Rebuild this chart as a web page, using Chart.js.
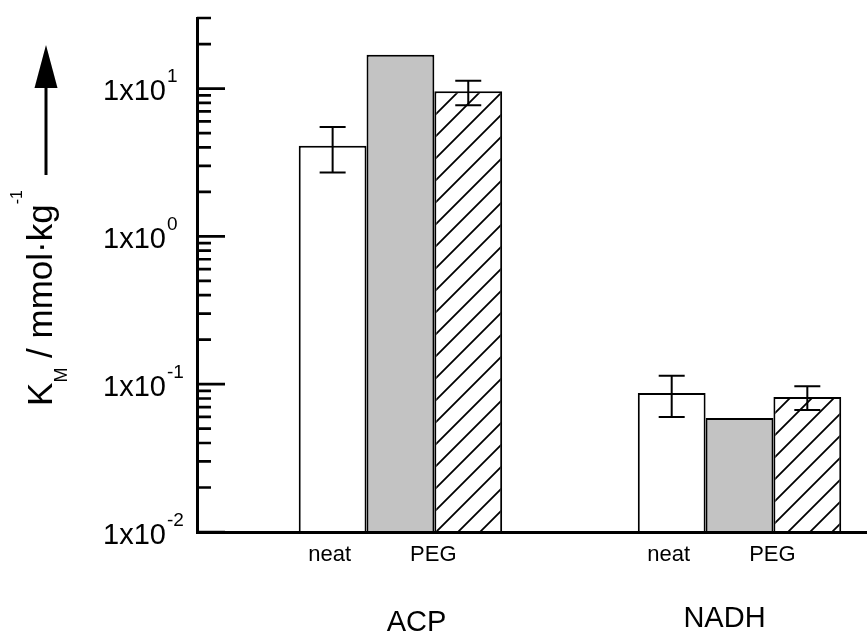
<!DOCTYPE html>
<html>
<head>
<meta charset="utf-8">
<script src="https://cdn.jsdelivr.net/npm/chart.js@4.4.0/dist/chart.umd.min.js"></script>
<style>
  html, body { margin: 0; padding: 0; background: #fff; overflow: hidden; }
  canvas { display: block; }
</style>
</head>
<body>
<canvas id="grafico" width="867" height="632"></canvas>
<script>
// KM por sistema (mmol/kg), escala logarítmica
const grupos = ['ACP', 'NADH'];
const valoresNeat = [4.1, 0.087];
const valoresGris = [16.9, 0.059];
const valoresPEG = [9.6, 0.082];

// barras de error (límite inferior / superior)
const errNeatMin = [2.7, 0.060];
const errNeatMax = [5.5, 0.114];
const errPEGMin = [7.7, 0.067];
const errPEGMax = [11.3, 0.097];

const etiquetasBarra = ['neat', 'PEG'];
const exponentes = [1, 0, -1, -2];

const FUENTE = '"Liberation Sans", Arial, sans-serif';

const canvas = document.getElementById('grafico');
const ctx = canvas.getContext('2d');

// relleno rayado "/"
function rayado() {
  const t = 22;
  const c = document.createElement('canvas');
  c.width = t; c.height = t;
  const g = c.getContext('2d');
  g.fillStyle = '#fff';
  g.fillRect(0, 0, t, t);
  g.strokeStyle = '#000';
  g.lineWidth = 1.8;
  g.beginPath();
  g.moveTo(0, t); g.lineTo(t, 0);
  g.moveTo(-3, 3); g.lineTo(3, -3);
  g.moveTo(t - 3, t + 3); g.lineTo(t + 3, t - 3);
  g.stroke();
  return ctx.createPattern(c, 'repeat');
}

const puntos = vals => vals.map((v, i) => ({ x: i + 1, y: v }));

const decoracion = {
  id: 'decoracion',
  afterDatasetsDraw(chart) {
    const { ctx, scales: { y } } = chart;
    ctx.save();
    ctx.strokeStyle = '#000';
    ctx.lineWidth = 2;
    chart.data.datasets.forEach((ds, di) => {
      if (!ds.errMin) return;
      chart.getDatasetMeta(di).data.forEach((bar, i) => {
        const y1 = y.getPixelForValue(ds.errMin[i]);
        const y2 = y.getPixelForValue(ds.errMax[i]);
        ctx.beginPath();
        ctx.moveTo(bar.x, y1); ctx.lineTo(bar.x, y2);
        ctx.moveTo(bar.x - 13, y1); ctx.lineTo(bar.x + 13, y1);
        ctx.moveTo(bar.x - 13, y2); ctx.lineTo(bar.x + 13, y2);
        ctx.stroke();
      });
    });
    ctx.restore();
  },
  afterDraw(chart) {
    const { ctx, chartArea, scales: { y } } = chart;
    const x0 = chartArea.left;
    ctx.save();
    ctx.strokeStyle = '#000';
    ctx.fillStyle = '#000';

    // marcas del eje y hacia dentro
    ctx.lineWidth = 2.7;
    ctx.beginPath();
    for (let e = -2; e <= 1; e++) {
      for (let m = 1; m <= 9; m++) {
        const v = m * Math.pow(10, e);
        if (v > y.max + 1e-9) break;
        const py = y.getPixelForValue(v);
        ctx.moveTo(x0, py);
        ctx.lineTo(x0 + (m === 1 ? 28 : 14), py);
      }
    }
    ctx.stroke();

    // etiquetas 1x10^n
    exponentes.forEach(e => {
      const py = y.getPixelForValue(Math.pow(10, e));
      ctx.font = '29px ' + FUENTE;
      ctx.textAlign = 'right';
      ctx.textBaseline = 'alphabetic';
      ctx.fillText('1x10', 166, py + 11.5);
      ctx.font = '19px ' + FUENTE;
      ctx.textAlign = 'left';
      ctx.fillText(String(e), 167, py - 6.5);
    });

    // título del eje y: K_M / mmol·kg^-1
    const partes = [
      ['K', '35px ', 0],
      ['M', '18px ', 15],
      [' / mmol\u00b7kg', '35px ', 0],
      ['-1', '16px ', -30]
    ];
    let total = 0;
    partes.forEach(p => { ctx.font = p[1] + FUENTE; total += ctx.measureText(p[0]).width; });
    ctx.save();
    ctx.translate(52, 298);
    ctx.rotate(-Math.PI / 2);
    ctx.textAlign = 'left';
    let px = -total / 2;
    partes.forEach(p => {
      ctx.font = p[1] + FUENTE;
      ctx.fillText(p[0], px, p[2]);
      px += ctx.measureText(p[0]).width;
    });
    ctx.restore();

    // flecha
    ctx.lineWidth = 3;
    ctx.beginPath();
    ctx.moveTo(46, 175); ctx.lineTo(46, 85);
    ctx.stroke();
    ctx.beginPath();
    ctx.moveTo(46, 45); ctx.lineTo(34.5, 88); ctx.lineTo(57.5, 88);
    ctx.closePath();
    ctx.fill();

    // etiquetas bajo las barras
    const m0 = chart.getDatasetMeta(0).data;
    const m1 = chart.getDatasetMeta(1).data;
    const m2 = chart.getDatasetMeta(2).data;
    ctx.textAlign = 'center';
    ctx.font = '22px ' + FUENTE;
    grupos.forEach((g, i) => {
      ctx.fillText(etiquetasBarra[0], m0[i].x - 3, chartArea.bottom + 29);
      ctx.fillText(etiquetasBarra[1], (m1[i].x + m2[i].x) / 2 - 1, chartArea.bottom + 29);
    });
    const dx = [16, -15];
    const dy = [99, 95];
    ctx.font = '29px ' + FUENTE;
    grupos.forEach((g, i) => {
      ctx.fillText(g, m1[i].x + dx[i], chartArea.bottom + dy[i]);
    });
    ctx.restore();
  }
};

new Chart(ctx, {
  type: 'bar',
  data: {
    datasets: [
      {
        label: 'neat',
        data: puntos(valoresNeat),
        backgroundColor: '#ffffff',
        errMin: errNeatMin,
        errMax: errNeatMax
      },
      {
        label: 'gris',
        data: puntos(valoresGris),
        backgroundColor: '#c3c3c3'
      },
      {
        label: 'PEG',
        data: puntos(valoresPEG),
        backgroundColor: rayado(),
        errMin: errPEGMin,
        errMax: errPEGMax
      }
    ]
  },
  options: {
    responsive: false,
    animation: false,
    devicePixelRatio: 1,
    layout: { padding: { left: 197, top: 18, right: 0, bottom: 100 } },
    plugins: {
      legend: { display: false },
      tooltip: { enabled: false }
    },
    datasets: {
      bar: {
        categoryPercentage: 0.6,
        barPercentage: 1,
        borderColor: '#000',
        borderWidth: 2
      }
    },
    scales: {
      x: {
        type: 'linear',
        offset: false,
        min: 0.4,
        max: 2.376,
        grid: { display: false, drawTicks: false, offset: false },
        ticks: { display: false },
        border: { color: '#000', width: 3, z: 1 },
        afterBuildTicks: s => { s.ticks = grupos.map((g, i) => ({ value: i + 1 })); }
      },
      y: {
        type: 'logarithmic',
        min: 0.01,
        max: 30,
        grid: { display: false, drawTicks: false },
        ticks: { display: false },
        border: { color: '#000', width: 3, z: 1 }
      }
    }
  },
  plugins: [decoracion]
});
</script>
</body>
</html>
